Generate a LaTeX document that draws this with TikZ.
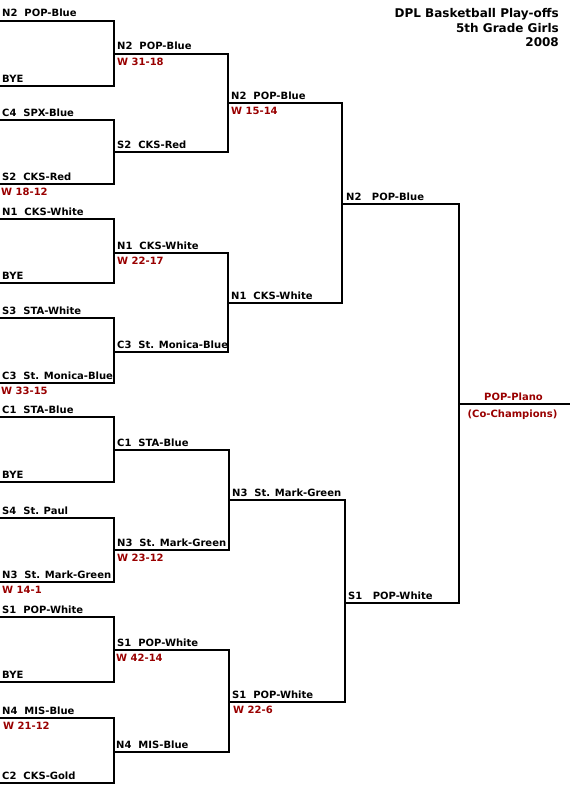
\documentclass[tikz,border=0pt]{standalone}
\usepackage{fontspec}
\setmainfont{DejaVu Sans}
\definecolor{winred}{HTML}{990000}
\begin{document}
\begin{tikzpicture}[x=1pt,y=-1pt,
  bracket/.style={line width=2pt, line join=miter, draw=black},
  lbl/.style={anchor=base west, inner sep=0pt, font=\fontsize{10}{12}\selectfont\bfseries},
  win/.style={lbl, text=winred},
  ttl/.style={anchor=base east, inner sep=0pt, font=\fontsize{12}{14}\selectfont\bfseries},
  champ/.style={anchor=base, inner sep=0pt, text=winred, font=\fontsize{10}{12}\selectfont\bfseries}]
\useasboundingbox (0,0) rectangle (570,800);

% ---------- round 1 ----------
\foreach \n/\t/\b in {1/21/86, 2/120/184, 3/219/283, 4/318/383, 5/417/482, 6/518/582, 7/617/682, 8/718/783}{
  \coordinate (a\n t) at (0,\t);
  \coordinate (a\n b) at (0,\b);
  \coordinate (a\n c) at (114,\t);
  \draw[bracket] (a\n t) -- (a\n c) |- (a\n b);
}
% ---------- round 2 ----------
\foreach \n/\t/\b/\x in {1/54/152/228, 2/253/352/228, 3/450/550/229, 4/650/752/229}{
  \coordinate (b\n t) at (114,\t);
  \coordinate (b\n b) at (114,\b);
  \coordinate (b\n c) at (\x,\t);
  \draw[bracket] (b\n t) -- (b\n c) |- (b\n b);
}
% ---------- round 3 ----------
\foreach \n/\t/\b/\s/\x in {1/103/303/228/342, 2/500/702/229/345}{
  \coordinate (c\n t) at (\s,\t);
  \coordinate (c\n b) at (\s,\b);
  \coordinate (c\n c) at (\x,\t);
  \draw[bracket] (c\n t) -- (c\n c) |- (c\n b);
}
% ---------- round 4 ----------
\coordinate (d1t) at (342,204);
\coordinate (d1b) at (345,603);
\coordinate (d1c) at (459,204);
\draw[bracket] (d1t) -- (d1c) |- (d1b);
% ---------- final ----------
\coordinate (f1) at (459,404);
\coordinate (f2) at (570,404);
\draw[bracket] (f1) -- (f2);

% ---------- round 1 labels ----------
\node[lbl] (l01) at (2,17) {N2~~POP-Blue};
\node[lbl] (l02) at (2,82) {BYE};
\node[lbl] (l03) at (2,116) {C4~~SPX-Blue};
\node[lbl] (l04) at (2,180) {S2~~CKS-Red};
\node[win] (w04) at (1,195.5) {W 18-12};
\node[lbl] (l05) at (2,215) {N1~~CKS-White};
\node[lbl] (l06) at (2,279) {BYE};
\node[lbl] (l07) at (2,314) {S3~~STA-White};
\node[lbl] (l08) at (2,379) {C3~~St. Monica-Blue};
\node[win] (w08) at (1,394.5) {W 33-15};
\node[lbl] (l09) at (2,413) {C1~~STA-Blue};
\node[lbl] (l10) at (2,478) {BYE};
\node[lbl] (l11) at (2,514) {S4~~St. Paul};
\node[lbl] (l12) at (2,578) {N3~~St. Mark-Green};
\node[win] (w12) at (2,593.5) {W 14-1};
\node[lbl] (l13) at (2,613) {S1~~POP-White};
\node[lbl] (l14) at (2,678) {BYE};
\node[lbl] (l15) at (2,714) {N4~~MIS-Blue};
\node[win] (w15) at (3,729.5) {W 21-12};
\node[lbl] (l16) at (2,779) {C2~~CKS-Gold};

% ---------- round 2 labels ----------
\node[lbl] (m1) at (117,50) {N2~~POP-Blue};
\node[win] (v1) at (117,65.5) {W 31-18};
\node[lbl] (m2) at (117,148) {S2~~CKS-Red};
\node[lbl] (m3) at (117,249) {N1~~CKS-White};
\node[win] (v3) at (117,264.5) {W 22-17};
\node[lbl] (m4) at (117,348) {C3~~St. Monica-Blue};
\node[lbl] (m5) at (117,446) {C1~~STA-Blue};
\node[lbl] (m6) at (117,546) {N3~~St. Mark-Green};
\node[win] (v6) at (117,561.5) {W 23-12};
\node[lbl] (m7) at (117,646) {S1~~POP-White};
\node[win] (v7) at (116,661.5) {W 42-14};
\node[lbl] (m8) at (116,748) {N4~~MIS-Blue};

% ---------- round 3 labels ----------
\node[lbl] (n1) at (231,99) {N2~~POP-Blue};
\node[win] (u1) at (231,114.5) {W 15-14};
\node[lbl] (n2) at (231,299) {N1~~CKS-White};
\node[lbl] (n3) at (232,496) {N3~~St. Mark-Green};
\node[lbl] (n4) at (232,698) {S1~~POP-White};
\node[win] (u4) at (233,713.5) {W 22-6};

% ---------- round 4 labels ----------
\node[lbl] (o1) at (346,200) {N2~~~POP-Blue};
\node[lbl] (o2) at (348,599) {S1~~~POP-White};

% ---------- champion ----------
\node[champ] (ch1) at (513.5,400) {POP-Plano};
\node[champ] (ch2) at (512.5,417) {(Co-Champions)};

% ---------- title ----------
\node[ttl] (t1) at (559,18) {DPL Basketball Play-offs};
\node[ttl] (t2) at (559,32.5) {5th Grade Girls};
\node[ttl] (t3) at (559,47) {2008};
\end{tikzpicture}
\end{document}
